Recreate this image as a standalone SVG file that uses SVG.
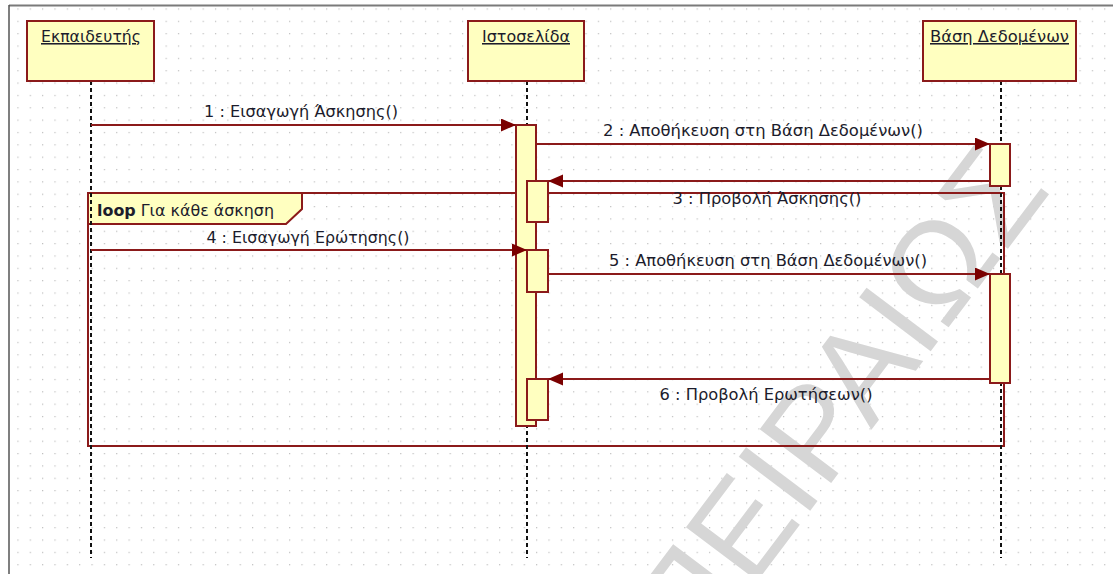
<svg xmlns="http://www.w3.org/2000/svg" width="1113" height="574" viewBox="0 0 1113 574">
<style>
.box{fill:#FFFFC0;stroke:#8B1A1A;stroke-width:2}
.bar{fill:#FFFFC0;stroke:#8B1A1A;stroke-width:2}
.life{stroke:#111;stroke-width:2;stroke-dasharray:4 3;fill:none}
.msg{stroke:#8B1A1A;stroke-width:2;fill:none}
.t{font-family:"DejaVu Sans",sans-serif;font-size:15.5px;fill:#1c1c2c}
.hd{text-decoration:underline;text-anchor:middle}
.lbl{text-anchor:middle}
.wm{font-family:"Liberation Sans",Arial,sans-serif;font-size:130px;fill:#d6d6d6;text-anchor:end}
</style>
<defs>
<pattern id="grid" x="5" y="8.4" width="12.35" height="12.35" patternUnits="userSpaceOnUse">
<rect x="0" y="0" width="1.2" height="1.2" fill="#bdbdbd"/>
</pattern>
<marker id="arr" markerUnits="userSpaceOnUse" markerWidth="16" markerHeight="14" refX="15" refY="6.5" orient="auto">
<path d="M0,0 L15,6.5 L0,13 z" fill="#7a0000"/>
</marker>
</defs>
<rect x="0" y="0" width="1113" height="574" fill="#fff"/>
<rect x="9" y="5" width="1104" height="569" fill="url(#grid)"/>
<line x1="9" y1="5.5" x2="1113" y2="5.5" stroke="#7a7a7a" stroke-width="2"/>
<line x1="9" y1="5" x2="9" y2="574" stroke="#555" stroke-width="1.5"/>
<text class="wm" transform="translate(1052,190) rotate(-53)">ΠΕΙΡΑΙΩΣ</text>
<g id="loop">
<rect x="88" y="193" width="916" height="253" fill="none" stroke="#8B1A1A" stroke-width="2"/>
<polygon points="88,193 302,193 302,209 286,224 88,224" fill="#FFFFC0" stroke="#8B1A1A" stroke-width="2"/>
<text class="t" x="97" y="216" textLength="177" lengthAdjust="spacingAndGlyphs"><tspan font-weight="bold">loop</tspan> Για κάθε άσκηση</text>
</g>
<g id="teacher">
<line class="life" x1="91" y1="81" x2="91" y2="558"/>
<rect class="box" x="27" y="21" width="127" height="60"/>
<text class="t hd" x="91" y="42" textLength="100" lengthAdjust="spacingAndGlyphs">Εκπαιδευτής</text>
</g>
<g id="website">
<line class="life" x1="527" y1="81" x2="527" y2="558"/>
<rect class="box" x="468" y="21" width="116" height="60"/>
<text class="t hd" x="526" y="42" textLength="88" lengthAdjust="spacingAndGlyphs">Ιστοσελίδα</text>
<rect class="bar" x="516" y="125" width="20" height="301"/>
<rect class="bar" x="527" y="181" width="21" height="41"/>
<rect class="bar" x="527" y="250" width="21" height="42"/>
<rect class="bar" x="527" y="379" width="21" height="41"/>
</g>
<g id="database">
<line class="life" x1="1001" y1="81" x2="1001" y2="558"/>
<rect class="box" x="923" y="21" width="153" height="60"/>
<text class="t hd" x="999.5" y="42" textLength="139" lengthAdjust="spacingAndGlyphs">Βάση Δεδομένων</text>
<rect class="bar" x="990" y="144" width="20" height="42"/>
<rect class="bar" x="990" y="274" width="20" height="109"/>
</g>
<g id="connectors">
<line class="msg" x1="91" y1="125" x2="516" y2="125" marker-end="url(#arr)"/>
<text class="t lbl" x="301" y="117" textLength="194" lengthAdjust="spacingAndGlyphs">1 : Εισαγωγή Άσκησης()</text>
<line class="msg" x1="536" y1="144" x2="990" y2="144" marker-end="url(#arr)"/>
<text class="t lbl" x="763" y="136" textLength="320" lengthAdjust="spacingAndGlyphs">2 : Αποθήκευση στη Βάση Δεδομένων()</text>
<line class="msg" x1="990" y1="181" x2="548" y2="181" marker-end="url(#arr)"/>
<text class="t lbl" x="767" y="204" textLength="189" lengthAdjust="spacingAndGlyphs">3 : Προβολή Άσκησης()</text>
<line class="msg" x1="91" y1="250" x2="527" y2="250" marker-end="url(#arr)"/>
<text class="t lbl" x="308" y="243" textLength="203" lengthAdjust="spacingAndGlyphs">4 : Εισαγωγή Ερώτησης()</text>
<line class="msg" x1="548" y1="274" x2="990" y2="274" marker-end="url(#arr)"/>
<text class="t lbl" x="768" y="266" textLength="318" lengthAdjust="spacingAndGlyphs">5 : Αποθήκευση στη Βάση Δεδομένων()</text>
<line class="msg" x1="990" y1="379" x2="548" y2="379" marker-end="url(#arr)"/>
<text class="t lbl" x="766" y="400" textLength="213" lengthAdjust="spacingAndGlyphs">6 : Προβολή Ερωτήσεων()</text>
</g>
</svg>
